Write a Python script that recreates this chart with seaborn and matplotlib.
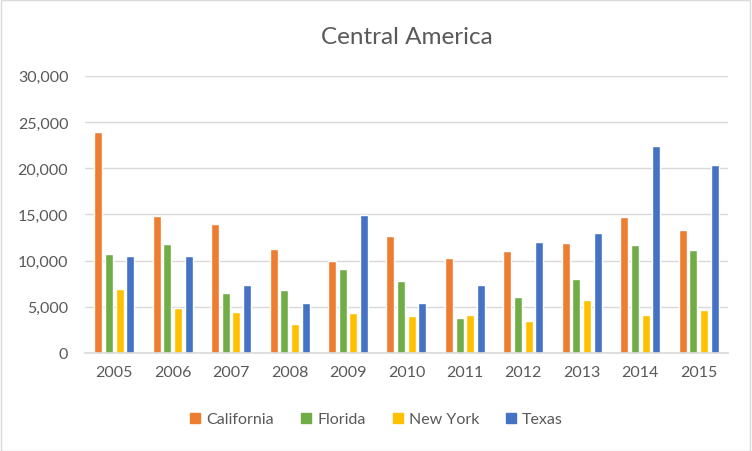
import pandas as pd
import numpy as np
import matplotlib.pyplot as plt
import seaborn as sns
from matplotlib.patches import Rectangle
from matplotlib.lines import Line2D
from matplotlib.ticker import FuncFormatter

# datos
years = ['2005', '2006', '2007', '2008', '2009', '2010', '2011', '2012', '2013', '2014', '2015']
states = ['California', 'Florida', 'New York', 'Texas']
california = [23900, 14870, 14000, 11300, 10000, 12700, 10320, 11080, 11950, 14770, 13360]
florida = [10760, 11840, 6530, 6860, 9130, 7830, 3830, 6100, 8050, 11730, 11190]
new_york = [6970, 4840, 4480, 3180, 4370, 4040, 4150, 3500, 5780, 4150, 4690]
texas = [10540, 10540, 7400, 5450, 14980, 5450, 7400, 12060, 13030, 22350, 20400]

colors = ['#ED7D31', '#70AD47', '#FFC000', '#4472C4']
text_color = '#595959'
grid_color = '#D9D9D9'

df = pd.DataFrame({
    'year': years * 4,
    'state': np.repeat(states, len(years)),
    'value': california + florida + new_york + texas,
})

sns.set_theme(style='white')
plt.rcParams['font.family'] = ['Lato', 'DejaVu Sans']

fig = plt.figure(figsize=(7.52, 4.52), dpi=100)
ax = fig.add_axes([0.113, 0.217, 0.855, 0.613])

sns.barplot(data=df, x='year', y='value', hue='state', palette=colors,
            saturation=1, width=0.73, gap=0.25, ax=ax, legend=False)

ax.set_ylim(0, 30000)
ax.set_xlim(-0.5, 10.5)
ax.set_yticks(range(0, 30001, 5000))
ax.yaxis.set_major_formatter(FuncFormatter(lambda v, p: f'{int(v):,}'))
ax.grid(axis='y', color=grid_color, linewidth=1)
ax.set_axisbelow(True)
ax.set_xlabel('')
ax.set_ylabel('')
for side in ['top', 'right', 'left']:
    ax.spines[side].set_visible(False)
ax.spines['bottom'].set_color(grid_color)
ax.spines['bottom'].set_linewidth(1.2)
ax.tick_params(axis='both', length=0, labelsize=11.5, colors=text_color)
ax.tick_params(axis='y', pad=12)
ax.tick_params(axis='x', pad=9)

ax.set_title('Central America', fontsize=17.5, color=text_color, pad=24)

handles = [Line2D([], [], marker='s', linestyle='none', markersize=7.5,
                  markerfacecolor=c, markeredgecolor=c) for c in colors]
ax.legend(handles, states, loc='center', bbox_to_anchor=(0.5, 0.07),
          bbox_transform=fig.transFigure, ncol=4, frameon=False,
          fontsize=11.5, labelcolor=text_color, handlelength=0.8,
          handletextpad=0.3, columnspacing=1.6)

fig.patches.append(Rectangle((0.001, 0.001), 0.997, 0.996, transform=fig.transFigure,
                             fill=False, edgecolor=grid_color, linewidth=1))

plt.savefig('out.png', dpi=100)
plt.close()
